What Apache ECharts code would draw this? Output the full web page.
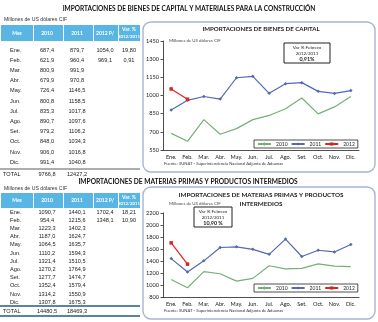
<!DOCTYPE html>
<html>
<head>
<meta charset="utf-8">
<script src="https://cdn.jsdelivr.net/npm/echarts@6/dist/echarts.min.js"></script>
<style>
html,body{margin:0;padding:0;background:#fff;}
#c{width:378px;height:322px;}
</style>
</head>
<body>
<div id="c"></div>
<script>
// Month labels shared by tables and charts
const months = ['Ene.','Feb.','Mar.','Abr.','May.','Jun.','Jul.','Ago.','Set.','Oct.','Nov.','Dic.'];

// Bienes de capital (millones de US$ CIF)
const cap2010 = [687.4,621.9,800.9,679.9,726.4,800.8,835.3,890.7,979.2,848.0,906.0,991.4];
const cap2011 = [879.7,960.4,991.9,970.8,1146.5,1158.5,1017.8,1097.6,1106.2,1034.3,1016.8,1040.8];
const cap2012 = [1054.0,969.1];
const capVar = ['19,80','0,91'];
const capTotal = ['9766,8','12427,2'];

// Materias primas y productos intermedios (millones de US$ CIF)
const mat2010 = [1090.7,954.4,1223.3,1187.0,1064.5,1110.2,1321.4,1270.2,1277.7,1352.4,1314.2,1307.8];
const mat2011 = [1440.1,1215.6,1402.3,1624.7,1635.7,1594.3,1510.5,1764.9,1474.7,1579.4,1550.9,1675.3];
const mat2012 = [1702.4,1348.1];
const matVar = ['18,21','10,90'];
const matTotal = ['14480,5','18469,3'];

// Axis tick settings
const capTicks = {min:550, max:1450, interval:150};
const matTicks = {min:800, max:2200, interval:200};

const seriesNames = ['2010','2011','2012'];
const colors = {'2010':'#74b077','2011':'#5169b0','2012':'#dd2222'};

const fmt = v => v.toFixed(1).replace('.', ',');

const TBL_FONT = 'Liberation Sans';
const CH_FONT = 'Lato';
const G = [];

function text(x, y, t, o) {
  o = o || {};
  const align = o.align || 'left';
  const va = o.va || 'middle';
  G.push({
    type:'text', z: 20,
    style:{
      x, y, text:t,
      fill: o.fill || '#222',
      fontSize: o.size || 6,
      fontFamily: o.family || TBL_FONT,
      fontWeight: o.weight || 'normal',
      textAlign: align, align: align,
      textVerticalAlign: va, verticalAlign: va
    }
  });
}
function rect(x, y, w, h, style, r, z) {
  G.push({type:'rect', z: z || 1, shape:{x, y, width:w, height:h, r: r || 0}, style});
}
function line(x1, y1, x2, y2, stroke, w) {
  G.push({type:'line', z: 15, shape:{x1, y1, x2, y2}, style:{stroke, lineWidth:w}});
}

// Data table drawn at the left of each section
function drawTable(cfg, v10, v11, v12, vv, tot) {
  const cols = [[1,33],[34,63],[64,93],[94,118],[119,140]];
  const centers = [0, 47, 77, 105, 129];
  text(4, cfg.unitY, 'Millones de US dólares CIF', {size:5.2, fill:'#333'});
  cols.forEach(c => rect(c[0], cfg.headTop, c[1]-c[0], cfg.headH, {fill:'#58b5e4'}, 0, 5));
  const hy = cfg.headTop + cfg.headH/2;
  const hs = {fill:'#fff', weight:'bold', size:5, align:'center', family:CH_FONT};
  text(17, hy, 'Mes', hs);
  text(centers[1], hy, '2010', hs);
  text(centers[2], hy, '2011', hs);
  text(centers[3], hy, '2012 P/', hs);
  text(centers[4], hy-3.2, 'Var. %', hs);
  text(centers[4], hy+3.4, '2012/2011', Object.assign({}, hs, {size:4.3}));
  months.forEach((m, i) => {
    const y = cfg.rowTop + i*cfg.rowStep;
    text(10, y, m, {size:5.6});
    text(centers[1], y, fmt(v10[i]), {size:5.6, align:'center'});
    text(centers[2], y, fmt(v11[i]), {size:5.6, align:'center'});
    if (i < v12.length) {
      text(centers[3], y, fmt(v12[i]), {size:5.6, align:'center'});
      text(centers[4], y, vv[i], {size:5.6, align:'center'});
    }
  });
  const ty = cfg.totalY;
  if (cfg.thick) {
    line(0, ty-5, 140, ty-5, '#5a84a6', 2);
    line(0, ty+5, 140, ty+5, '#5a84a6', 2);
  } else {
    line(0, ty-5, 140, ty-5, '#333', 0.8);
  }
  text(3, ty, 'TOTAL', {size:5.6});
  text(centers[1], ty, tot[0], {size:5.6, align:'center'});
  text(centers[2], ty, tot[1], {size:5.6, align:'center'});
}

// Section titles
text(189, 9, 'IMPORTACIONES DE BIENES DE CAPITAL Y MATERIALES PARA LA CONSTRUCCIÓN', {size:6.5, weight:'bold', family:CH_FONT, align:'center', fill:'#111'});
text(188, 182, 'IMPORTACIONES DE MATERIAS PRIMAS Y PRODUCTOS INTERMEDIOS', {size:6.6, weight:'bold', family:CH_FONT, align:'center', fill:'#111'});

drawTable({unitY:20, headTop:25, headH:16, rowTop:50, rowStep:10.2, totalY:174, thick:false},
          cap2010, cap2011, cap2012, capVar, capTotal);
drawTable({unitY:189, headTop:193, headH:15, rowTop:212, rowStep:8.2, totalY:311, thick:true},
          mat2010, mat2011, mat2012, matVar, matTotal);

// Chart frames (outline only so axes stay visible)
rect(143, 22, 232, 150, {fill:null, stroke:'#a7b4d8', lineWidth:1.4}, 8, 0);
rect(143, 187, 232, 132, {fill:null, stroke:'#a7b4d8', lineWidth:1.4}, 8, 0);

// Chart titles and notes
text(261, 29, 'IMPORTACIONES DE BIENES DE CAPITAL', {size:6.1, weight:'bold', family:CH_FONT, align:'center'});
text(261, 195, 'IMPORTACIONES DE MATERIAS PRIMAS Y PRODUCTOS', {size:6.3, weight:'bold', family:CH_FONT, align:'center'});
text(261, 204, 'INTERMEDIOS', {size:6.3, weight:'bold', family:CH_FONT, align:'center'});
text(169, 41, 'Millones de US dólares CIF', {size:4.4, family:CH_FONT, fill:'#444'});
text(169, 204, 'Millones de US dólares CIF', {size:4.4, family:CH_FONT, fill:'#444'});
text(164, 164, 'Fuente: SUNAT - Superintendencia Nacional Adjunta de Aduanas', {size:4.2, family:CH_FONT, fill:'#333'});
text(164, 311, 'Fuente: SUNAT - Superintendencia Nacional Adjunta de Aduanas', {size:4.2, family:CH_FONT, fill:'#333'});

// Variation note boxes
function varBox(x, y, w, h, pct) {
  rect(x, y, w, h, {fill:'#fff', stroke:'#222', lineWidth:1}, 0, 18);
  const cx = x + w/2;
  text(cx, y+4.5, 'Var % Febrero', {size:4.6, family:CH_FONT, align:'center'});
  line(cx-14, y+7.5, cx+14, y+7.5, '#222', 0.5);
  text(cx, y+10.5, '2012/2011', {size:4.4, family:CH_FONT, align:'center'});
  text(cx, y+16, pct, {size:5.4, weight:'bold', family:CH_FONT, align:'center'});
}
varBox(284, 43, 46, 20, capVar[1] + '%');
varBox(194, 207, 38, 20, matVar[1] + ' %');

function xAxis(gi) {
  return {
    gridIndex: gi, type:'category', data: months, boundaryGap: true,
    axisLine:{lineStyle:{color:'#222', width:0.8}},
    axisTick:{lineStyle:{color:'#222', width:0.8}, length:3},
    axisLabel:{fontSize:5.6, fontFamily:CH_FONT, color:'#222', margin:4, interval:0}
  };
}
function yAxis(gi, t) {
  return {
    gridIndex: gi, type:'value', min:t.min, max:t.max, interval:t.interval,
    axisLine:{show:true, lineStyle:{color:'#222', width:0.8}},
    axisTick:{show:true, length:2.5, lineStyle:{color:'#222', width:0.8}},
    splitLine:{show:false},
    axisLabel:{fontSize:5.6, fontFamily:CH_FONT, color:'#222', margin:4, formatter: v => String(v)}
  };
}
function mkSeries(gi, d10, d11, d12) {
  return [
    {name:'2010', type:'line', xAxisIndex:gi, yAxisIndex:gi, data:d10, symbol:'none',
     lineStyle:{color:colors['2010'], width:1.2}, itemStyle:{color:colors['2010']}, z:3},
    {name:'2011', type:'line', xAxisIndex:gi, yAxisIndex:gi, data:d11, symbol:'diamond', symbolSize:3.5,
     lineStyle:{color:colors['2011'], width:1.2}, itemStyle:{color:colors['2011']}, z:4},
    {name:'2012', type:'line', xAxisIndex:gi, yAxisIndex:gi, data:d12, symbol:'rect', symbolSize:3.5,
     lineStyle:{color:colors['2012'], width:1.2}, itemStyle:{color:colors['2012']}, z:5}
  ];
}
function legend(top) {
  return {
    left:254, top:top, orient:'horizontal', data:seriesNames, width:110,
    itemWidth:13, itemHeight:4, itemGap:3,
    backgroundColor:'#fff', borderColor:'#222', borderWidth:0.8, padding:[1.5,3],
    textStyle:{fontSize:5, fontFamily:CH_FONT, color:'#222'},
    selectedMode:false
  };
}

const chart = echarts.init(document.getElementById('c'), null, {renderer:'canvas', width:378, height:322});
chart.setOption({
  animation:false,
  backgroundColor:'#fff',
  grid:[
    {left:163, top:41, width:196, height:109},
    {left:163, top:213, width:196, height:84}
  ],
  xAxis:[xAxis(0), xAxis(1)],
  yAxis:[yAxis(0, capTicks), yAxis(1, matTicks)],
  legend:[legend(140), legend(284)],
  series:[...mkSeries(0, cap2010, cap2011, cap2012), ...mkSeries(1, mat2010, mat2011, mat2012)],
  graphic:{elements:G}
});
</script>
</body>
</html>
